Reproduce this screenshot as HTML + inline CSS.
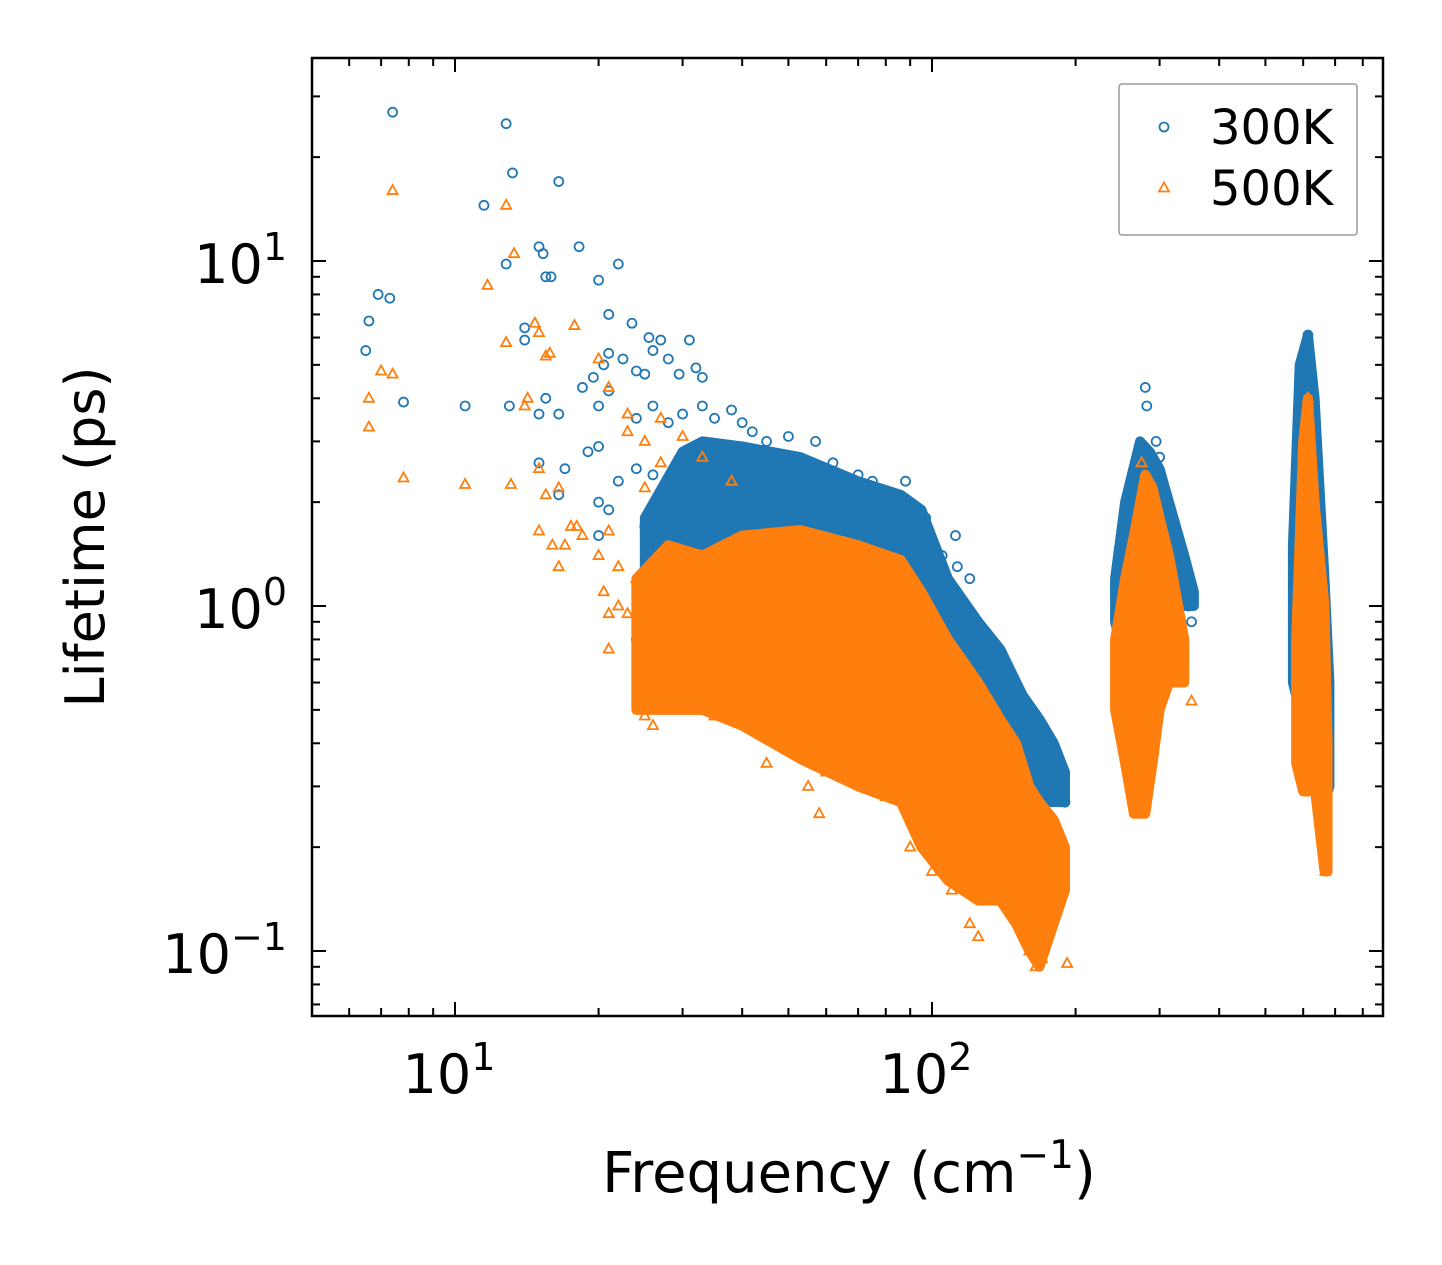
<!DOCTYPE html>
<html><head><meta charset="utf-8">
<style>
html,body{margin:0;padding:0;background:#fff;}
svg{display:block;font-family:"DejaVu Sans","Liberation Sans",sans-serif;}
</style></head>
<body>
<svg id="chart" width="1442" height="1265" viewBox="0 0 1442 1265" xmlns="http://www.w3.org/2000/svg">
<rect x="0" y="0" width="1442" height="1265" fill="#fff"/>
<g id="marks"></g>
<g id="axes"></g>
</svg>
<script>
// ---- data ----
const xTicks = [10, 100];
const xTickLabels = ["1", "2"];
const yTicks = [0.1, 1, 10];
const yTickLabels = ["\u22121", "0", "1"];

// dense band envelopes: frequency, lower lifetime, upper lifetime
const blueBandF = [25, 30, 33, 40, 53, 70, 86, 95, 108, 125, 139, 155, 168, 180, 190];
const blueBandLo = [0.8, 0.75, 0.8, 0.85, 0.9, 0.8, 0.6, 0.55, 0.5, 0.48, 0.45, 0.3, 0.27, 0.27, 0.27];
const blueBandHi = [1.8, 2.8, 3.0, 2.9, 2.7, 2.3, 2.1, 1.9, 1.2, 0.9, 0.75, 0.55, 0.47, 0.4, 0.33];
const bluePeak2F = [242, 254, 273, 286, 300, 314, 338, 354];
const bluePeak2Lo = [0.9, 0.7, 0.8, 0.8, 0.9, 1.0, 1.0, 1.0];
const bluePeak2Hi = [1.2, 2.0, 3.0, 2.8, 2.5, 2.0, 1.4, 1.1];
const bluePeak3F = [571, 590, 614, 634, 665, 681];
const bluePeak3Lo = [0.6, 0.5, 0.5, 0.4, 0.27, 0.3];
const bluePeak3Hi = [1.5, 5.0, 6.1, 4.0, 1.2, 0.6];

const orangeBandF = [24, 28, 33, 40, 53, 70, 86, 95, 108, 125, 139, 150, 160, 168, 180, 190];
const orangeBandLo = [0.5, 0.5, 0.5, 0.45, 0.36, 0.3, 0.27, 0.2, 0.16, 0.14, 0.14, 0.12, 0.1, 0.09, 0.12, 0.15];
const orangeBandHi = [1.2, 1.5, 1.4, 1.6, 1.66, 1.5, 1.36, 1.1, 0.8, 0.6, 0.47, 0.4, 0.3, 0.27, 0.24, 0.2];
const orangePeak2F = [242, 254, 265, 280, 290, 300, 314, 338];
const orangePeak2Lo = [0.5, 0.35, 0.25, 0.25, 0.35, 0.5, 0.6, 0.6];
const orangePeak2Hi = [0.8, 1.2, 1.6, 2.4, 2.2, 1.8, 1.4, 0.8];
const orangePeak3F = [580, 600, 614, 634, 665, 675];
const orangePeak3Lo = [0.35, 0.29, 0.29, 0.3, 0.17, 0.17];
const orangePeak3Hi = [0.8, 3.0, 4.0, 2.0, 1.0, 0.4];

// individual points
const blueF = [7.4,12.8,13.2,16.5,11.5,12.8,15,15.3,18.2,15.5,15.9,20,22,6.9,7.3,6.6,6.5,7.8,10.5,13,14,14,15.5,15,16.5,21,23.5,25.5,27,31,18.5,19.5,20.5,21,22.5,24,25,26,28,29.5,32,33,20,21,24,26,28,30,33,35,38,40,42,45,50,57,62,70,75,88,15,17,19,20,16.5,20,21,20,22,24,26,27,25,24,26,27,112,113,120,145,190,185,350,345,330,315,300,280,282,295,255,245,614,605,618,625,630,640,650,660,595,590,97,105,130,150,160,175,180];
const blueT = [27,25,18,17,14.5,9.8,11,10.5,11,9,9,8.8,9.8,8,7.8,6.7,5.5,3.9,3.8,3.8,6.4,5.9,4,3.6,3.6,7,6.6,6,5.9,5.9,4.3,4.6,5,5.4,5.2,4.8,4.7,5.5,5.2,4.7,4.9,4.6,3.8,4.2,3.5,3.8,3.4,3.6,3.8,3.5,3.7,3.4,3.2,3.0,3.1,3.0,2.6,2.4,2.3,2.3,2.6,2.5,2.8,2.9,2.1,2,1.9,1.6,2.3,2.5,2.4,2.1,1.7,0.8,0.78,0.9,1.6,1.3,1.2,0.57,0.27,0.16,0.9,1.0,1.3,1.9,2.7,4.3,3.8,3.0,1.2,0.9,6.1,5.5,4.5,3.5,2.5,1.2,0.5,0.3,1.0,0.6,1.8,1.4,0.8,0.5,0.45,0.42,0.3];

const orangeF = [7.4,12.8,11.7,13.3,12.8,14.7,15,15.5,15.8,17.8,20,21,6.6,6.6,7,7.4,7.8,10.5,13.1,14,14.2,15,15.5,16.5,17.5,18,15,16,17,18.5,16.5,20,21,22,20.5,21,22,21,23,24,23,25,27,25,23,27,30,33,38,25,26,28,30,35,40,45,50,55,58,60,64,70,80,85,90,100,110,120,125,140,150,160,165,170,175,192,147,270,275,280,350,335,614,620,640,665,668];
const orangeT = [16,14.5,8.5,10.5,5.8,6.6,6.2,5.3,5.4,6.5,5.2,4.3,3.3,4,4.8,4.7,2.35,2.25,2.25,3.8,4,2.5,2.1,2.2,1.7,1.7,1.65,1.5,1.5,1.6,1.3,1.4,1.65,1.3,1.1,0.95,1.0,0.75,0.95,1.2,3.2,3.0,2.6,2.2,3.6,3.5,3.1,2.7,2.3,0.48,0.45,0.55,0.5,0.48,0.5,0.35,0.4,0.3,0.25,0.33,0.35,0.4,0.28,0.3,0.2,0.17,0.15,0.12,0.11,0.15,0.22,0.1,0.09,0.095,0.115,0.092,0.3,0.25,2.6,2.3,0.53,0.7,4.0,3.0,1.5,0.25,0.17];

// ---- geometry ----
const X0 = 312, X1 = 1383, Y0 = 58, Y1 = 1016;
const xDec = 477, yDec = 345;
function sx(f){ return 455 + (Math.log10(f) - 1) * xDec; }
function sy(t){ return 606 - Math.log10(t) * yDec; }
const NS = "http://www.w3.org/2000/svg";
const marks = document.getElementById('marks');
const axes = document.getElementById('axes');
function mk(tag, attrs, parent){
  const e = document.createElementNS(NS, tag);
  for (const k in attrs) e.setAttribute(k, attrs[k]);
  parent.appendChild(e);
  return e;
}
const BLUE = "#1f77b4", ORANGE = "#ff7f0e";

const defs = mk('defs', {}, marks);
const cp = mk('clipPath', {id:'clip'}, defs);
mk('rect', {x:X0, y:Y0, width:X1-X0, height:Y1-Y0}, cp);
const g = mk('g', {'clip-path':'url(#clip)'}, marks);

function band(F, Lo, Hi, color, name){
  let pts = [];
  for (let i = 0; i < F.length; i++) pts.push(sx(F[i]) + ',' + sy(Hi[i]));
  for (let i = F.length - 1; i >= 0; i--) pts.push(sx(F[i]) + ',' + sy(Lo[i]));
  const p = mk('polygon', {points: pts.join(' '), fill: color, stroke: color, 'stroke-width': 10, 'stroke-linejoin':'round'}, g);
  
  
}
function circles(F, T, name){
  for (let i = 0; i < F.length; i++){
    const c = mk('circle', {cx: sx(F[i]), cy: sy(T[i]), r: 4.5, fill: 'none', stroke: BLUE, 'stroke-width': 1.8}, g);
    
    
  }
}
function tris(F, T, name){
  for (let i = 0; i < F.length; i++){
    const x = sx(F[i]), y = sy(T[i]);
    const t = mk('polygon', {points: `${x},${y-5.5} ${x-5},${y+3.5} ${x+5},${y+3.5}`, fill: 'none', stroke: ORANGE, 'stroke-width': 1.8}, g);
    
    
  }
}
band(blueBandF, blueBandLo, blueBandHi, BLUE, 'series-300k-dense-band');
band(bluePeak2F, bluePeak2Lo, bluePeak2Hi, BLUE, 'series-300k-peak-2');
band(bluePeak3F, bluePeak3Lo, bluePeak3Hi, BLUE, 'series-300k-peak-3');
circles(blueF, blueT, 'point-300k');
band(orangeBandF, orangeBandLo, orangeBandHi, ORANGE, 'series-500k-dense-band');
band(orangePeak2F, orangePeak2Lo, orangePeak2Hi, ORANGE, 'series-500k-peak-2');
band(orangePeak3F, orangePeak3Lo, orangePeak3Hi, ORANGE, 'series-500k-peak-3');
tris(orangeF, orangeT, 'point-500k');

// ---- axes ----
const frame = mk('rect', {x:X0, y:Y0, width:X1-X0, height:Y1-Y0, fill:'none', stroke:'#000', 'stroke-width':2.5}, axes);



function tickLine(x1,y1,x2,y2,name){
  const l = mk('line', {x1,y1,x2,y2,stroke:'#000','stroke-width':2}, axes);
  
  
}
for (let d = 1; d <= 1000; d *= 10){
  for (let m = 1; m <= 9; m++){
    const v = d * m, x = sx(v);
    if (x < X0 || x > X1) continue;
    const L = m === 1 ? 14 : 8;
    tickLine(x, Y1, x, Y1 - L, 'x-tick');
    tickLine(x, Y0, x, Y0 + L, 'x-tick-top');
  }
}
for (let d = 0.01; d <= 100; d *= 10){
  for (let m = 1; m <= 9; m++){
    const v = d * m, y = sy(v);
    if (y < Y0 || y > Y1) continue;
    const L = m === 1 ? 14 : 8;
    tickLine(X0, y, X0 + L, y, 'y-tick');
    tickLine(X1, y, X1 - L, y, 'y-tick-right');
  }
}
for (let i = 0; i < xTicks.length; i++){
  const t = mk('text', {x: sx(xTicks[i]) - 6, y: 1093, 'font-size': 54, 'text-anchor':'middle', fill:'#000'}, axes);
  
  
  t.innerHTML = '10<tspan font-size="38" dy="-23">' + xTickLabels[i] + '</tspan>';
}
for (let i = 0; i < yTicks.length; i++){
  const t = mk('text', {x: 287, y: sy(yTicks[i]) + 22, 'font-size': 54, 'text-anchor':'end', fill:'#000'}, axes);
  
  
  t.innerHTML = '10<tspan font-size="38" dy="-23">' + yTickLabels[i] + '</tspan>';
}
const xl = mk('text', {x: 849, y: 1192, 'font-size': 56, 'text-anchor':'middle', fill:'#000'}, axes);


xl.innerHTML = 'Frequency (cm<tspan font-size="39" dy="-24">\u22121</tspan><tspan dy="24">)</tspan>';
const yl = mk('text', {x: 0, y: 0, 'font-size': 54, 'text-anchor':'middle', fill:'#000', transform:'translate(104,537) rotate(-90)'}, axes);


yl.textContent = 'Lifetime (ps)';

// legend
const lg = mk('g', {}, axes);


mk('rect', {x:1119, y:84, width:238, height:151, fill:'#fff', stroke:'#999', 'stroke-width':1.5, rx:3}, lg);
const lc = mk('circle', {cx:1164, cy:127, r:4.5, fill:'none', stroke:BLUE, 'stroke-width':1.8}, lg);


const lt = mk('polygon', {points:'1164,182.5 1159,191.5 1169,191.5', fill:'none', stroke:ORANGE, 'stroke-width':1.8}, lg);


const t1 = mk('text', {x:1210, y:144, 'font-size':48, fill:'#000'}, lg);


t1.textContent = '300K';
const t2 = mk('text', {x:1210, y:205, 'font-size':48, fill:'#000'}, lg);


t2.textContent = '500K';
</script>
</body></html>
